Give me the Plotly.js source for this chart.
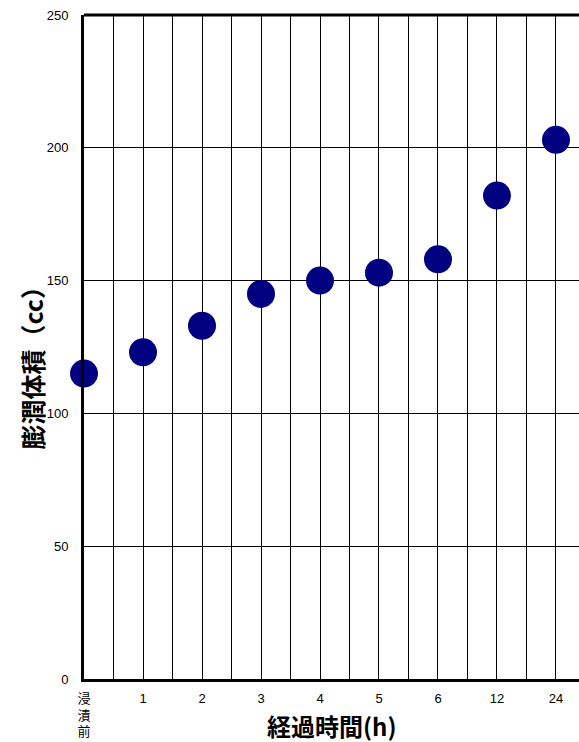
<!DOCTYPE html>
<html>
<head>
<meta charset="utf-8">
<script src="https://cdn.plot.ly/plotly-3.0.1.min.js"></script>
<style>html,body{margin:0;padding:0;background:#fff;}#chart{width:579px;height:742px;}</style>
</head>
<body>
<div id="chart"></div>
<script>
const categories = ["浸<br>漬<br>前", "1", "2", "3", "4", "5", "6", "12", "24"];
const swellVolume = [115, 123, 133, 145, 150, 153, 158, 182, 203];
const yTicks = [0, 50, 100, 150, 200, 250];
const xTitle = "経過時間(h)";
const yTitle = "膨潤体積（cc）";

const xIdx = categories.map((_, i) => i);
const fontFam = "Liberation Sans, Arial, Noto Sans CJK JP, sans-serif";
const cjkBold = "Noto Sans CJK JP, sans-serif";

const trace = {
  x: xIdx,
  y: swellVolume,
  type: "scatter",
  mode: "markers",
  marker: {color: "#000080", size: 28},
  cliponaxis: false,
  hoverinfo: "skip"
};

const layout = {
  width: 579, height: 742,
  margin: {l: 84, r: 0, t: 15, b: 63, pad: 0},
  paper_bgcolor: "#fff", plot_bgcolor: "#fff",
  showlegend: false,
  font: {family: fontFam, size: 12, color: "#000"},
  xaxis: {
    range: [0, 8.39],
    tickmode: "array", tickvals: xIdx, ticktext: categories,
    showgrid: true, gridcolor: "#000", gridwidth: 1,
    minor: {tick0: 0.5, dtick: 1, showgrid: true, gridcolor: "#000", gridwidth: 1, ticks: ""},
    zeroline: false, showline: true, linecolor: "#000", linewidth: 3,
    ticks: "", ticklabelstandoff: 5,
    tickfont: {family: fontFam, size: 13, color: "#000"},
    fixedrange: true
  },
  yaxis: {
    range: [0, 250],
    tickmode: "array", tickvals: yTicks,
    showgrid: true, gridcolor: "#000", gridwidth: 1,
    zeroline: false, showline: true, linecolor: "#000", linewidth: 3,
    ticks: "", ticklabelstandoff: 10,
    tickfont: {family: fontFam, size: 13, color: "#000"},
    fixedrange: true
  },
  shapes: [
    {type: "line", xref: "paper", yref: "paper", x0: 0, x1: 1, y0: 1, y1: 1,
     line: {color: "#000", width: 3}}
  ],
  annotations: [
    {text: "<b>" + xTitle + "</b>", xref: "paper", yref: "paper", x: 0.5, y: 0,
     yshift: -46, xanchor: "center", yanchor: "middle", showarrow: false,
     font: {family: cjkBold, size: 24, color: "#000"}},
    {text: "<b>" + yTitle + "</b>", xref: "paper", yref: "paper", x: 0, y: 0.478,
     xshift: -52, xanchor: "center", yanchor: "middle", textangle: -90, showarrow: false,
     font: {family: cjkBold, size: 25, color: "#000"}}
  ]
};

Plotly.newPlot("chart", [trace], layout, {staticPlot: true, displayModeBar: false});
</script>
</body>
</html>
